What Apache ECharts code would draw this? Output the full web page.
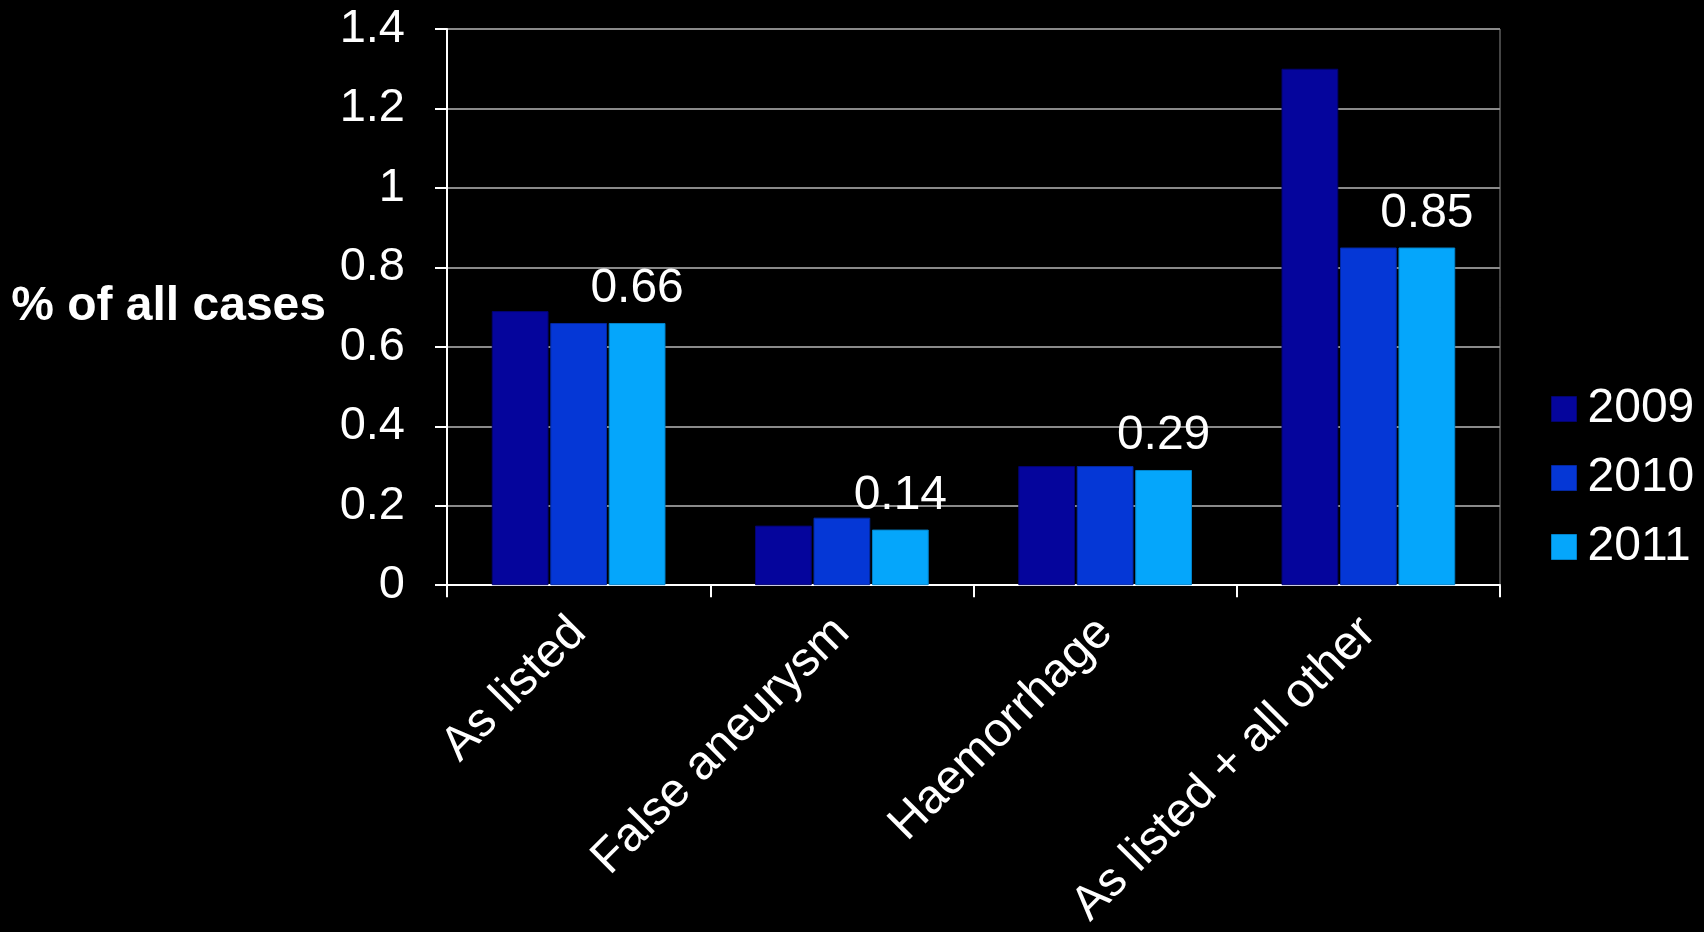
<!DOCTYPE html>
<html><head><meta charset="utf-8">
<script src="https://cdn.jsdelivr.net/npm/echarts@6/dist/echarts.min.js"></script>
<style>html,body{margin:0;padding:0;background:#000;}#c{width:1704px;height:932px;}</style>
</head><body><div id="c"></div>
<script>
const categories = ['As listed', 'False aneurysm', 'Haemorrhage', 'As listed + all other'];
const seriesNames = ['2009', '2010', '2011'];
const v2009 = [0.69, 0.15, 0.30, 1.30];
const v2010 = [0.66, 0.17, 0.30, 0.85];
const v2011 = [0.66, 0.14, 0.29, 0.85];
const yTicks = { min: 0, max: 1.4, interval: 0.2 };
const yName = '% of all cases';

const colors = ['#05059c', '#0537d6', '#05a6fb'];
const edges = ['#03036e', '#0428a0', '#0482c8'];
const font = 'Liberation Sans, Arial, sans-serif';

const vals = [v2009, v2010, v2011];
const chart = echarts.init(document.getElementById('c'), null, { renderer: 'canvas' });
chart.setOption({
  backgroundColor: '#000',
  animation: false,
  textStyle: { fontFamily: font, color: '#fff' },
  grid: { left: 447, right: 204, top: 29, bottom: 345, show: true, borderColor: '#8a8a8a', borderWidth: 1, backgroundColor: 'transparent' },
  legend: {
    orient: 'vertical', left: 1546, top: 380, itemGap: 21,
    itemWidth: 25, itemHeight: 25, icon: 'rect',
    itemStyle: { borderWidth: 1 },
    textStyle: { color: '#fff', fontSize: 48, fontFamily: font, padding: [0, 0, 0, 6] },
    data: seriesNames
  },
  xAxis: {
    type: 'category', data: categories,
    axisLine: { lineStyle: { color: '#fff', width: 2 } },
    axisTick: { show: true, length: 12, lineStyle: { color: '#fff', width: 2 } },
    axisLabel: { rotate: 45, color: '#fff', fontSize: 48, fontFamily: font, margin: 40, interval: 0 }
  },
  yAxis: {
    type: 'value', min: yTicks.min, max: yTicks.max, interval: yTicks.interval,
    name: yName, nameLocation: 'middle', nameRotate: 0, nameGap: 121,
    nameTextStyle: { color: '#fff', fontSize: 48, fontWeight: 'bold', fontFamily: font, align: 'right', verticalAlign: 'middle', padding: [12, 0, 0, 0] },
    axisLine: { show: true, lineStyle: { color: '#fff', width: 2 } },
    axisTick: { show: true, length: 12, lineStyle: { color: '#fff', width: 2 } },
    axisLabel: { color: '#fff', fontSize: 47, fontFamily: font, margin: 42 },
    splitLine: { lineStyle: { color: '#8a8a8a', width: 2 } }
  },
  series: seriesNames.map((n, i) => ({
    name: n, type: 'bar', data: vals[i],
    barGap: '3%', barCategoryGap: '34%',
    itemStyle: { color: colors[i], borderColor: edges[i], borderWidth: 1 },
    label: i === 2 ? { show: true, position: 'top', distance: 10, color: '#fff', fontSize: 48, fontFamily: font } : { show: false }
  }))
});
</script></body></html>
